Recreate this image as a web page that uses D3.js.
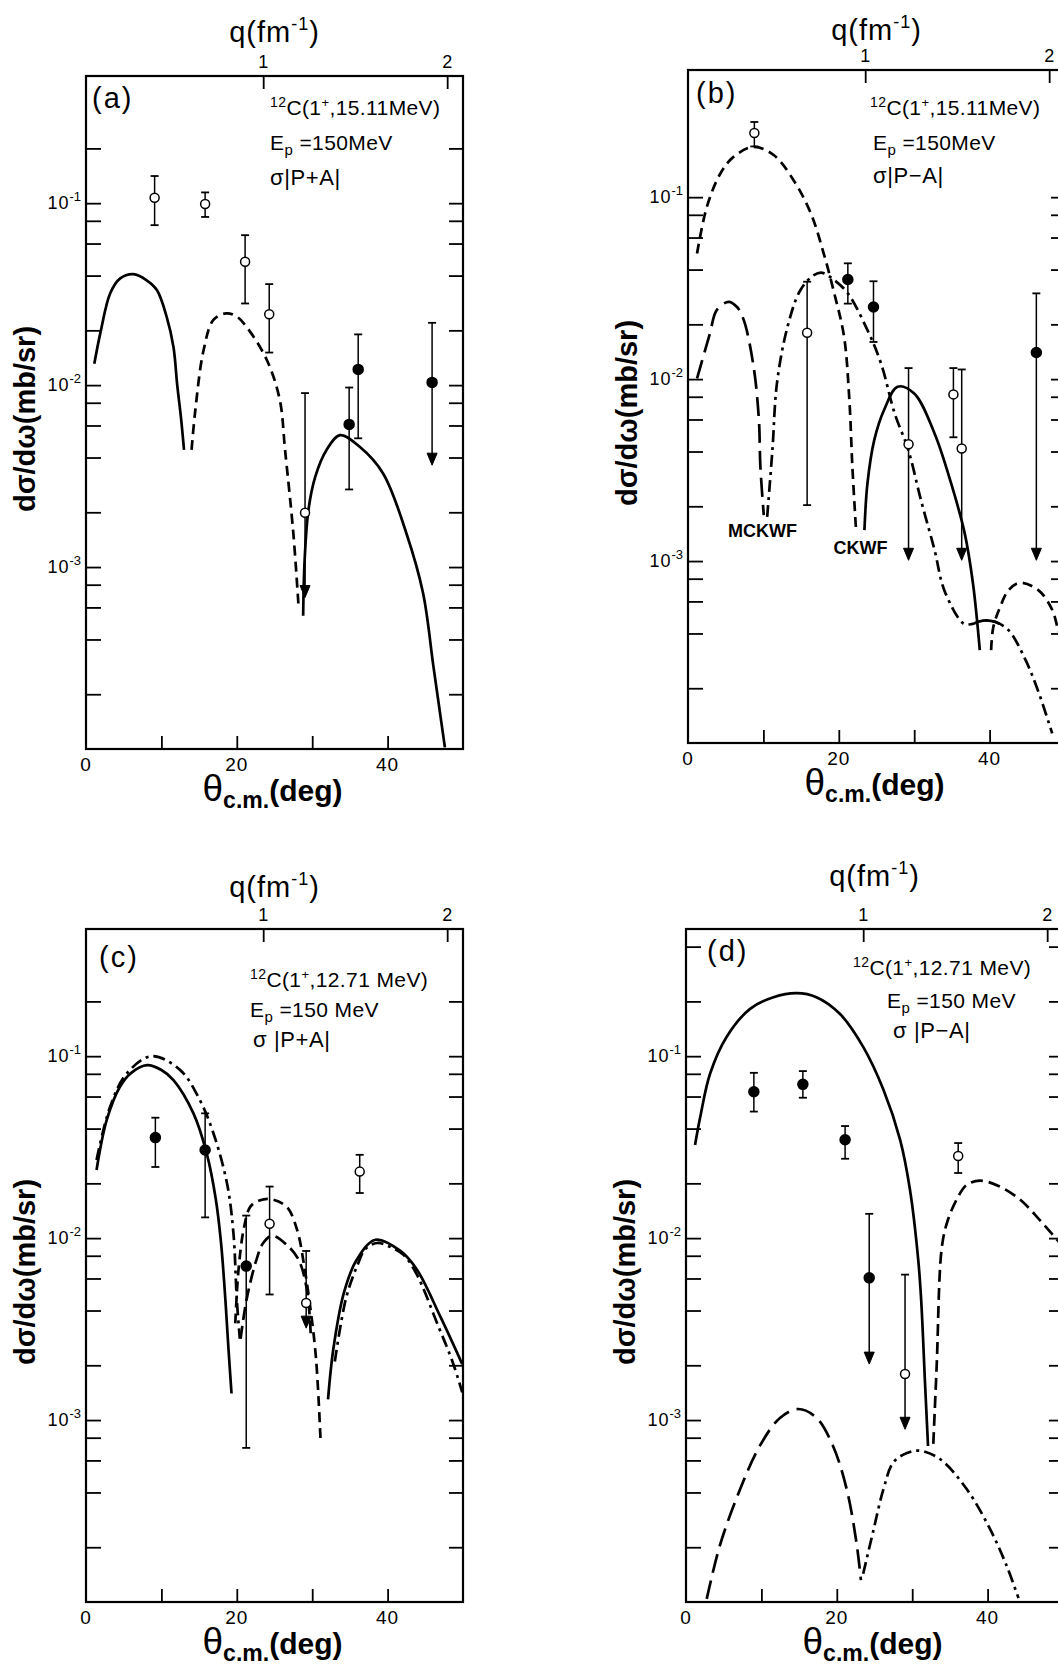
<!DOCTYPE html>
<html>
<head>
<meta charset="utf-8">
<script src="https://cdn.jsdelivr.net/npm/d3@7"></script>
<style>
  body { margin: 0; background: #fff; }
  svg { display: block; }
  text { font-family: "Liberation Sans", Arial, sans-serif; fill: #000; }
</style>
</head>
<body>
<svg id="chart" width="1058" height="1667"></svg>
<script>
'use strict';

// ---- shared axes ----
const thetaDomain = [0, 50];
const yDomain = [1e-4, 0.5];
const thetaTicks = [10, 20, 30, 40];
const thetaLabels = [0, 20, 40];
const qLabels = ['1', '2'];
const qTheta = [23.5, 47.9];
const yTicks = [2e-4, 4e-4, 6e-4, 8e-4, 1e-3, 2e-3, 4e-3, 6e-3, 8e-3,
                1e-2, 2e-2, 4e-2, 6e-2, 8e-2, 1e-1];
const yDecades = [1e-1, 1e-2, 1e-3];
const yDecadeExp = ['-1', '-2', '-3'];

// ---- panel (a) ----
const aSolid1 = [[1.1,0.0131],[1.9,0.0193],[3.2,0.0319],[4.5,0.0385],[6.3,0.0407],[8.0,0.0378],
  [9.4,0.0333],[10.7,0.0237],[11.6,0.0162],[12.1,0.0100],[12.6,0.0066],[13.0,0.0044]];
const aDash = [[14.0,0.0044],[14.5,0.0073],[15.6,0.0156],[16.9,0.0228],[18.6,0.0248],[20.0,0.0238],
  [21.3,0.0209],[24.0,0.0137],[25.7,0.0083],[26.4,0.0044],[27.5,0.00153],[28.2,0.0006]];
const aSolid2 = [[28.8,0.00054],[29.0,0.0011],[29.5,0.00206],[30.4,0.00313],[31.9,0.0044],[33.7,0.00531],
  [36.3,0.00458],[39.4,0.00327],[42.5,0.00153],[44.7,0.00072],[46.1,0.00028],[47.6,0.000102]];
const aOpen = [
  {t:9.1, v:0.107, lo:0.0757, hi:0.141},
  {t:15.8, v:0.099, lo:0.084, hi:0.1146},
  {t:21.1, v:0.0476, lo:0.0281, hi:0.0667},
  {t:24.3, v:0.0245, lo:0.0151, hi:0.0359},
  {t:29.05, v:0.00199, lo:0.00068, hi:0.00904, arrow:true}];
const aFilled = [
  {t:34.9, v:0.00608, lo:0.00267, hi:0.0097},
  {t:36.1, v:0.0122, lo:0.0051, hi:0.019},
  {t:45.9, v:0.01035, lo:0.00363, hi:0.022, arrow:true}];

// ---- panel (b) ----
const bShortDash1 = [[1.2,0.049],[2.5,0.0885],[4.3,0.135],[6.0,0.166],[8.7,0.189],[11.4,0.170],[14.0,0.124],
  [16.3,0.0813],[18.0,0.049],[19.4,0.0296],[20.7,0.0171],[21.4,0.0077],[21.8,0.0033],[22.3,0.00145]];
const bLongDash1 = [[1.2,0.0101],[2.9,0.0178],[3.8,0.0239],[5.4,0.0266],[6.5,0.0249],[7.4,0.0211],
  [8.7,0.0117],[9.4,0.006],[9.6,0.0033],[10.05,0.00179]];
const bDashDot = [[10.5,0.00175],[11.2,0.0041],[11.8,0.0095],[13.2,0.0194],[14.9,0.0308],[16.7,0.0373],
  [17.8,0.0384],[19.4,0.035],[21.2,0.0296],[23.8,0.0186],[25.6,0.0122],[27.4,0.0065],[29.2,0.0041],
  [30.9,0.00216],[32.7,0.00115],[34.0,0.00069],[36.5,0.000455],[37.6,0.00045],[38.6,0.000465],
  [39.6,0.000472],[40.8,0.000462],[42.5,0.000418],[44.7,0.00029],[46.4,0.000195],[48.3,0.000113]];
const bSolid = [[23.4,0.00148],[23.8,0.00267],[24.7,0.00462],[26.0,0.00676],[27.8,0.00908],[30.0,0.00834],
  [32.7,0.00503],[34.9,0.00267],[36.7,0.00142],[37.8,0.00075],[38.7,0.000324]];
const bCap = [[38.2,0.000458],[38.6,0.000465],[39.6,0.000472],[40.8,0.000462],[41.3,0.000452]];
const bShortDash2 = [[40.2,0.000324],[40.5,0.000435],[41.4,0.00056],[42.5,0.00069],[44.0,0.00076],
  [46.5,0.00069],[48.3,0.00054],[49.1,0.00042],[50.0,0.00034]];
const bOpen = [
  {t:8.8, v:0.2255, lo:0.19, hi:0.259},
  {t:15.8, v:0.018, lo:0.00203, hi:0.0343},
  {t:29.25, v:0.00439, lo:0.00101, hi:0.0115, arrow:true},
  {t:35.2, v:0.00824, lo:0.00479, hi:0.0115},
  {t:36.3, v:0.00416, lo:0.00101, hi:0.0113, arrow:true}];
const bFilled = [
  {t:21.2, v:0.0353, lo:0.026, hi:0.0433},
  {t:24.6, v:0.0249, lo:0.016, hi:0.0345},
  {t:46.2, v:0.014, lo:0.00101, hi:0.0296, arrow:true}];
const bNotes = [{text:'MCKWF', t:5.3, v:0.00136}, {text:'CKWF', t:19.3, v:0.0011}];

// ---- panel (c) ----
const cSolid1 = [[1.4,0.0237],[2.75,0.0446],[4.5,0.0679],[6.0,0.081],[8.1,0.0893],[10.0,0.084],[11.6,0.0739],
  [14.25,0.0485],[16.0,0.0293],[17.2,0.0165],[17.9,0.0095],[18.5,0.0045],[18.9,0.00245],[19.3,0.0014]];
const cDashDot1 = [[1.4,0.0269],[3.2,0.0528],[5.4,0.0803],[8.7,0.1],[12.5,0.0838],[15.1,0.0574],
  [16.9,0.0377],[18.7,0.02],[19.55,0.0107],[20.0,0.0046],[20.4,0.0028]];
const cDash2 = [[19.8,0.0034],[20.2,0.0065],[20.9,0.0111],[21.8,0.0149],[23.0,0.0161],[24.4,0.0164],
  [26.6,0.0149],[28.0,0.0111],[28.9,0.0072],[29.7,0.0043],[30.5,0.0022],[31.1,0.00079]];
const cLongDash2 = [[20.5,0.0028],[21.3,0.0046],[22.6,0.0076],[23.5,0.0094],[24.7,0.0103],[26.6,0.0092],
  [28.2,0.0076],[29.3,0.0052],[29.8,0.0030]];
const cSolid3 = [[32.1,0.0013],[32.8,0.00245],[34.2,0.005],[35.9,0.0076],[38.4,0.0098],[41.7,0.0085],
  [43.9,0.0067],[47.0,0.0037],[49.9,0.00203]];
const cDashDot3 = [[33.0,0.0021],[34.5,0.0047],[36.0,0.0071],[37.05,0.0087],[38.6,0.0094],[40.2,0.009],
  [42.1,0.0081],[43.8,0.0064],[46.7,0.0033],[48.6,0.0021],[49.9,0.00142]];
const cOpen = [
  {t:24.35, v:0.012, lo:0.0049, hi:0.0192},
  {t:29.2, v:0.0044, lo:0.0032, hi:0.0085, arrow:true},
  {t:36.3, v:0.0232, lo:0.0177, hi:0.0287}];
const cFilled = [
  {t:9.2, v:0.0357, lo:0.0246, hi:0.0459},
  {t:15.8, v:0.0305, lo:0.013, hi:0.0485},
  {t:21.25, v:0.00702, lo:0.000703, hi:0.0133}];

// ---- panel (d) ----
const dSolid = [[1.2,0.0325],[1.9,0.0466],[3.2,0.0803],[5.4,0.128],[8.5,0.182],[11.6,0.211],[14.7,0.222],
  [17.3,0.211],[20.4,0.171],[23.5,0.1125],[26.2,0.0652],[28.4,0.0347],[29.7,0.0185],[30.8,0.0076],
  [31.2,0.0045],[31.7,0.0016],[32.1,0.00072]];
const dDash = [[32.8,0.00074],[33.25,0.002],[33.9,0.0087],[34.6,0.0121],[35.9,0.0163],[37.2,0.0196],
  [39.0,0.0207],[41.6,0.0192],[44.3,0.0163],[46.9,0.0126],[49.2,0.0098],[50.0,0.009]];
const dLongDash = [[2.75,0.000104],[4.5,0.000205],[7.2,0.000419],[9.8,0.000723],[12.5,0.00103],[14.9,0.00115],
  [17.3,0.00103],[19.5,0.00072],[21.3,0.000419],[22.6,0.000213],[23.2,0.000132]];
const dDashDot = [[23.5,0.000143],[24.8,0.000242],[26.2,0.000419],[27.5,0.000586],[29.3,0.000659],
  [31.0,0.000679],[33.7,0.00061],[37.2,0.000419],[40.3,0.000253],[42.5,0.000159],[44.1,0.000105]];
const dOpen = [
  {t:29.05, v:0.00179, lo:0.00089, hi:0.0063, arrow:true},
  {t:36.1, v:0.0283, lo:0.0228, hi:0.0333}];
const dFilled = [
  {t:9.0, v:0.0637, lo:0.0496, hi:0.081},
  {t:15.5, v:0.07, lo:0.0591, hi:0.0828},
  {t:21.1, v:0.0347, lo:0.0273, hi:0.0413},
  {t:24.3, v:0.00605, lo:0.00203, hi:0.0136, arrow:true}];

const dashes = {solid: null, dash: '10,6', dash2: '12,6', mid: '13,6', long: '19,8', dashdot: '12,5,3,5'};

const panels = [
  {id:'(a)', left:86, top:76, extra:[0.2], qDy:34,
   level:'15.11MeV', ep:'=150MeV', sig:'σ|P+A|', txt:[[184,39],[184,74],[184,109]], lab:[6,32],
   curves:[{d:aSolid1,s:'solid'},{d:aDash,s:'dash'},{d:aSolid2,s:'solid'}],
   open:aOpen, filled:aFilled, notes:[]},
  {id:'(b)', left:688, top:70, extra:[], qDy:30,
   level:'15.11MeV', ep:'=150MeV', sig:'σ|P−A|', txt:[[182,45],[185,80],[185,113]], lab:[8,33],
   curves:[{d:bShortDash1,s:'dash'},{d:bLongDash1,s:'long'},{d:bDashDot,s:'dashdot'},
           {d:bSolid,s:'solid'},{d:bCap,s:'solid'},{d:bShortDash2,s:'dash'}],
   open:bOpen, filled:bFilled, notes:bNotes},
  {id:'(c)', left:86, top:929, extra:[0.2], qDy:32,
   level:'12.71 MeV', ep:'=150 MeV', sig:'σ |P+A|', txt:[[164,58],[164,88],[167,118]], lab:[13,38],
   curves:[{d:cSolid1,s:'solid'},{d:cDashDot1,s:'dashdot'},{d:cDash2,s:'dash'},{d:cLongDash2,s:'mid'},
           {d:cSolid3,s:'solid'},{d:cDashDot3,s:'dashdot'}],
   open:cOpen, filled:cFilled, notes:[]},
  {id:'(d)', left:686, top:929, extra:[0.2, 0.4], qDy:43,
   level:'12.71 MeV', ep:'=150 MeV', sig:'σ |P−A|', txt:[[167,46],[201,79],[207,109]], lab:[21,32],
   curves:[{d:dSolid,s:'solid'},{d:dDash,s:'dash2'},{d:dLongDash,s:'long'},{d:dDashDot,s:'dashdot'}],
   open:dOpen, filled:dFilled, notes:[]}
];

const PW = 377, PH = 673;
const svg = d3.select('#chart');

function drawPanel(p, i) {
  const x = d3.scaleLinear(thetaDomain, [p.left, p.left + PW]);
  const y = d3.scaleLog(yDomain, [p.top + PH, p.top]);
  const bottom = p.top + PH;
  const g = svg.append('g');

  g.append('clipPath').attr('id', 'clip' + i)
    .append('rect').attr('x', p.left).attr('y', p.top).attr('width', PW).attr('height', PH);

  // inward ticks
  const ticks = yTicks.concat(p.extra);
  const axes = [
    [d3.axisRight(y).tickValues(ticks).tickSize(15), `translate(${p.left},0)`],
    [d3.axisLeft(y).tickValues(ticks).tickSize(14), `translate(${p.left + PW},0)`],
    [d3.axisTop(x).tickValues(thetaTicks).tickSize(13), `translate(0,${bottom})`],
    [d3.axisBottom(x).tickValues(qTheta).tickSize(13), `translate(0,${p.top})`]
  ];
  axes.forEach(([ax, tr]) => {
    const a = g.append('g').attr('transform', tr).call(ax.tickFormat(''));
    a.select('.domain').remove();
    a.selectAll('line').attr('stroke', '#000').attr('stroke-width', 1.8);
  });

  g.append('rect')
    .attr('x', p.left).attr('y', p.top).attr('width', PW).attr('height', PH)
    .attr('fill', 'none').attr('stroke', '#000').attr('stroke-width', 2.2);

  // tick labels
  g.append('g').selectAll('text').data(thetaLabels).join('text')
    .attr('x', d => x(d)).attr('y', bottom + 22)
    .attr('text-anchor', 'middle').attr('font-size', 19).attr('letter-spacing', 1).text(d => d);

  g.append('g').selectAll('text').data(qLabels).join('text')
    .attr('x', (d, k) => x(qTheta[k])).attr('y', p.top - 8)
    .attr('text-anchor', 'middle').attr('font-size', 18).text(d => d);

  const yl = g.append('g').selectAll('text').data(yDecades).join('text')
    .attr('x', p.left - 5).attr('y', d => y(d) + 6)
    .attr('text-anchor', 'end').attr('font-size', 18);
  yl.append('tspan').attr('letter-spacing', 1).text('10');
  yl.append('tspan').attr('font-size', 13).attr('dy', -8).text((d, k) => yDecadeExp[k]);

  // axis titles
  const q = g.append('text').attr('x', p.left + PW / 2).attr('y', p.top - p.qDy)
    .attr('text-anchor', 'middle').attr('font-size', 29).attr('letter-spacing', 1);
  q.append('tspan').text('q(fm');
  q.append('tspan').attr('font-size', 18).attr('dy', -12).text('-1');
  q.append('tspan').attr('dy', 12).text(')');

  const xt = g.append('text').attr('x', p.left + PW / 2 - 2).attr('y', bottom + 52)
    .attr('text-anchor', 'middle');
  xt.append('tspan').attr('font-size', 37).text('θ');
  xt.append('tspan').attr('font-size', 23).attr('font-weight', 'bold').attr('dy', 7).text('c.m.');
  xt.append('tspan').attr('font-size', 30).attr('font-weight', 'bold').attr('dy', -7).text('(deg)');

  g.append('text')
    .attr('transform', `translate(${p.left - 51},${p.top + 343}) rotate(-90)`)
    .attr('text-anchor', 'middle').attr('font-size', 29).attr('font-weight', 'bold')
    .text('dσ/dω(mb/sr)');

  // panel label and reaction text
  g.append('text').attr('x', p.left + p.lab[0]).attr('y', p.top + p.lab[1])
    .attr('font-size', 29).attr('letter-spacing', 2).text(p.id);

  const t1 = g.append('text').attr('x', p.left + p.txt[0][0]).attr('y', p.top + p.txt[0][1])
    .attr('font-size', 21).attr('letter-spacing', 0.4);
  t1.append('tspan').attr('font-size', 14).attr('dy', -8).text('12');
  t1.append('tspan').attr('dy', 8).text('C(1');
  t1.append('tspan').attr('font-size', 13).attr('dy', -8).text('+');
  t1.append('tspan').attr('dy', 8).text(',' + p.level + ')');

  const t2 = g.append('text').attr('x', p.left + p.txt[1][0]).attr('y', p.top + p.txt[1][1])
    .attr('font-size', 21).attr('letter-spacing', 0.4);
  t2.append('tspan').text('E');
  t2.append('tspan').attr('font-size', 15).attr('dy', 5).text('p');
  t2.append('tspan').attr('dy', -5).text(' ' + p.ep);

  g.append('text').attr('x', p.left + p.txt[2][0]).attr('y', p.top + p.txt[2][1])
    .attr('font-size', 22).attr('letter-spacing', 0.6).text(p.sig);

  g.selectAll('.note').data(p.notes).join('text')
    .attr('x', d => x(d.t)).attr('y', d => y(d.v))
    .attr('font-size', 18).attr('font-weight', 'bold').text(d => d.text);

  // curves
  const line = d3.line().x(d => x(d[0])).y(d => y(d[1])).curve(d3.curveCatmullRom.alpha(0.5));
  const cg = g.append('g').attr('clip-path', `url(#clip${i})`);
  p.curves.forEach(c => {
    cg.append('path').attr('d', line(c.d))
      .attr('fill', 'none').attr('stroke', '#000').attr('stroke-width', 2.7)
      .attr('stroke-dasharray', dashes[c.s]);
  });

  // data points
  const pts = p.open.map(d => Object.assign({open: true}, d))
    .concat(p.filled.map(d => Object.assign({open: false}, d)));
  const pg = g.append('g').attr('stroke', '#000');
  pts.forEach(d => {
    const cx = x(d.t);
    const yEnd = d.arrow ? y(d.lo) - 10 : y(d.lo);
    pg.append('line').attr('x1', cx).attr('x2', cx).attr('y1', y(d.hi)).attr('y2', yEnd).attr('stroke-width', 1.5);
    pg.append('line').attr('x1', cx - 4).attr('x2', cx + 4).attr('y1', y(d.hi)).attr('y2', y(d.hi)).attr('stroke-width', 1.8);
    if (d.arrow) {
      const ty = y(d.lo);
      pg.append('path').attr('d', `M${cx - 5},${ty - 12}L${cx + 5},${ty - 12}L${cx},${ty}Z`)
        .attr('fill', '#000').attr('stroke-width', 1);
    } else {
      pg.append('line').attr('x1', cx - 4).attr('x2', cx + 4).attr('y1', y(d.lo)).attr('y2', y(d.lo)).attr('stroke-width', 1.8);
    }
    pg.append('circle').attr('cx', cx).attr('cy', y(d.v)).attr('r', d.open ? 4.5 : 5)
      .attr('fill', d.open ? '#fff' : '#000').attr('stroke-width', 1.5);
  });
}

panels.forEach(drawPanel);
</script>
</body>
</html>
